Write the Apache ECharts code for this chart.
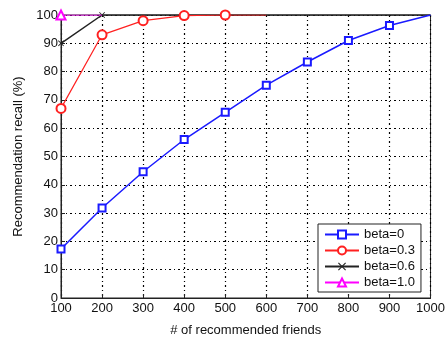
<!DOCTYPE html>
<html>
<head>
	<meta charset="utf-8">
	<title>Recommendation recall</title>
	<script src="https://cdn.jsdelivr.net/npm/echarts@6/dist/echarts.min.js"></script>
</head>
<body style="margin:0;background:#fff;">
	<div style="width:448px;height:342px;" id="chart1"></div>
	<script>
	// x positions (# of recommended friends)
	var friends = [100, 200, 300, 400, 500, 600, 700, 800, 900, 1000];
	// recall values (%) per beta
	var beta0 = [17.3, 31.8, 44.6, 56.0, 65.6, 75.2, 83.4, 91.0, 96.3, 100];
	var beta03 = [67, 93, 98, 99.8, 100, 100];
	var beta06 = [90, 100, 100, 100, 100, 100, 100, 100, 100, 100];
	var beta10 = [100, 100];
	// how many leading points carry a marker
	var marked0 = 9, marked03 = 5, marked06 = 2, marked10 = 1;

	function pts(values, marked) {
		var out = [];
		for (var i = 0; i < values.length; i++) {
			var p = { value: [friends[i], values[i]] };
			if (i >= marked) p.symbol = 'none';
			out.push(p);
		}
		return out;
	}

	var cross = 'path://M0,1L1,0L5,4L9,0L10,1L6,5L10,9L9,10L5,6L1,10L0,9L4,5Z';
	var font = 'Liberation Sans, Arial, sans-serif';
	var gridLine = { show: true, lineStyle: { color: '#000', type: [2, 3, 1, 3], width: 1.2 } };

	var myChart = echarts.init(document.getElementById('chart1'));
	var option = {
		animation: false,
		grid: { left: 61, right: 16, top: 15, bottom: 34, show: true, borderColor: '#222', borderWidth: 1 },
		xAxis: {
			type: 'value', min: 100, max: 1000, interval: 100,
			name: '# of recommended friends', nameLocation: 'middle', nameGap: 26,
			nameTextStyle: { fontFamily: font, fontSize: 13, color: '#111' },
			axisLine: { show: true, lineStyle: { color: '#222' } },
			axisTick: { inside: true, length: 4, lineStyle: { color: '#222' } },
			axisLabel: {
				fontFamily: font, fontSize: 13, color: '#111', margin: 4,
				formatter: function (v) { return String(v); }
			},
			splitLine: gridLine
		},
		yAxis: {
			type: 'value', min: 0, max: 100, interval: 10,
			name: 'Recommendation recall (%)', nameLocation: 'middle', nameGap: 34,
			nameTextStyle: { fontFamily: font, fontSize: 13, color: '#111' },
			axisLine: { show: true, lineStyle: { color: '#222' } },
			axisTick: { inside: true, length: 4, lineStyle: { color: '#222' } },
			axisLabel: { fontFamily: font, fontSize: 13, color: '#111', margin: 3 },
			splitLine: gridLine
		},
		legend: {
			orient: 'vertical', left: 318, top: 224,
			backgroundColor: '#fff', borderColor: '#222', borderWidth: 1,
			padding: [4, 6, 3, 6], itemGap: 3, itemWidth: 34, itemHeight: 10,
			textStyle: { fontFamily: font, fontSize: 13, color: '#111' },
			data: ['beta=0', 'beta=0.3', 'beta=0.6', 'beta=1.0']
		},
		series: [
			{
				name: 'beta=0', type: 'line', data: pts(beta0, marked0),
				symbol: 'emptyRect', symbolSize: 7, color: '#1a1aff',
				lineStyle: { width: 1.5 }, itemStyle: { borderWidth: 1.2 }
			},
			{
				name: 'beta=0.3', type: 'line', data: pts(beta03, marked03),
				symbol: 'emptyCircle', symbolSize: 9, color: '#ff2020',
				lineStyle: { width: 1.2 }, itemStyle: { borderWidth: 1.2 }
			},
			{
				name: 'beta=0.6', type: 'line', data: pts(beta06, marked06), z: 1,
				symbol: cross, symbolSize: 6, color: '#222',
				lineStyle: { width: 1.5 }
			},
			{
				name: 'beta=1.0', type: 'line', data: pts(beta10, marked10),
				symbol: 'emptyTriangle', symbolSize: 9, color: '#ff00ff',
				lineStyle: { width: 1.2 }, itemStyle: { borderWidth: 1.2 }
			}
		]
	};
	myChart.setOption(option);
	</script>
</body>
</html>
